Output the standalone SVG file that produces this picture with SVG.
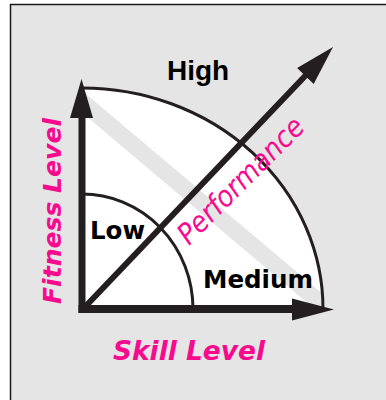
<svg xmlns="http://www.w3.org/2000/svg" width="386" height="400" viewBox="0 0 386 400">
  <defs>
    <style>
      .bg { fill: #e5e5e5; stroke: #1a1a1a; stroke-width: 1.5; }
      .axis { stroke: #231f20; fill: none; }
      .head { fill: #231f20; }
      .arc { stroke: #231f20; stroke-width: 3; fill: none; }
      .lbl { font-family: "DejaVu Sans", sans-serif; font-weight: bold; fill: #000; }
      .mag { font-family: "DejaVu Sans", sans-serif; font-style: oblique; fill: #f70a8d; }
    </style>
  </defs>
  <rect width="386" height="400" fill="#ffffff"/>
  <rect class="bg" x="10.5" y="4.5" width="400" height="420"/>

  <g id="zones">
    <path d="M82 309 L82 88 A241 221 0 0 1 323 309 Z" fill="#ffffff"/>
    <polygon points="86,94 330,300 330,322 86,116" fill="#e5e5e5"/>
    <path class="arc" d="M82 88 A241 221 0 0 1 323 309"/>
    <path class="arc" d="M82 194 A111 115 0 0 1 193 309"/>
  </g>

  <g id="connectors">
    <line class="axis" x1="82" y1="313" x2="82" y2="112" stroke-width="7"/>
    <polygon class="head" points="81.5,79 70,118 93,118"/>
    <line class="axis" x1="78.5" y1="309" x2="296" y2="309" stroke-width="8"/>
    <polygon class="head" points="334,309.5 292,298.5 292,320.5"/>
    <line class="axis" x1="84" y1="308" x2="307" y2="74" stroke-width="6"/>
    <polygon class="head" points="333,47 297.1,68.1 313.7,83.9"/>
  </g>

  <g id="label-high"><text x="167" y="80" font-family="Liberation Sans, Arial, sans-serif" font-weight="bold" font-size="28">High</text></g>
  <g id="label-low"><text class="lbl" x="90" y="239" font-size="24.5" textLength="55" lengthAdjust="spacingAndGlyphs">Low</text></g>
  <g id="label-medium"><text class="lbl" x="203" y="288" font-size="24.5" textLength="110" lengthAdjust="spacingAndGlyphs">Medium</text></g>
  <g id="label-performance"><text class="mag" x="0" y="0" font-size="29" textLength="166" lengthAdjust="spacingAndGlyphs" transform="translate(189 246) rotate(-45)">Performance</text></g>
  <g id="label-fitness"><text class="mag" x="0" y="0" font-weight="bold" font-size="25.4" textLength="186" lengthAdjust="spacingAndGlyphs" transform="translate(61 304) rotate(-90)">Fitness Level</text></g>
  <g id="label-skill"><text class="mag" x="113" y="360" font-weight="bold" font-size="26" textLength="152" lengthAdjust="spacingAndGlyphs">Skill Level</text></g>
</svg>
